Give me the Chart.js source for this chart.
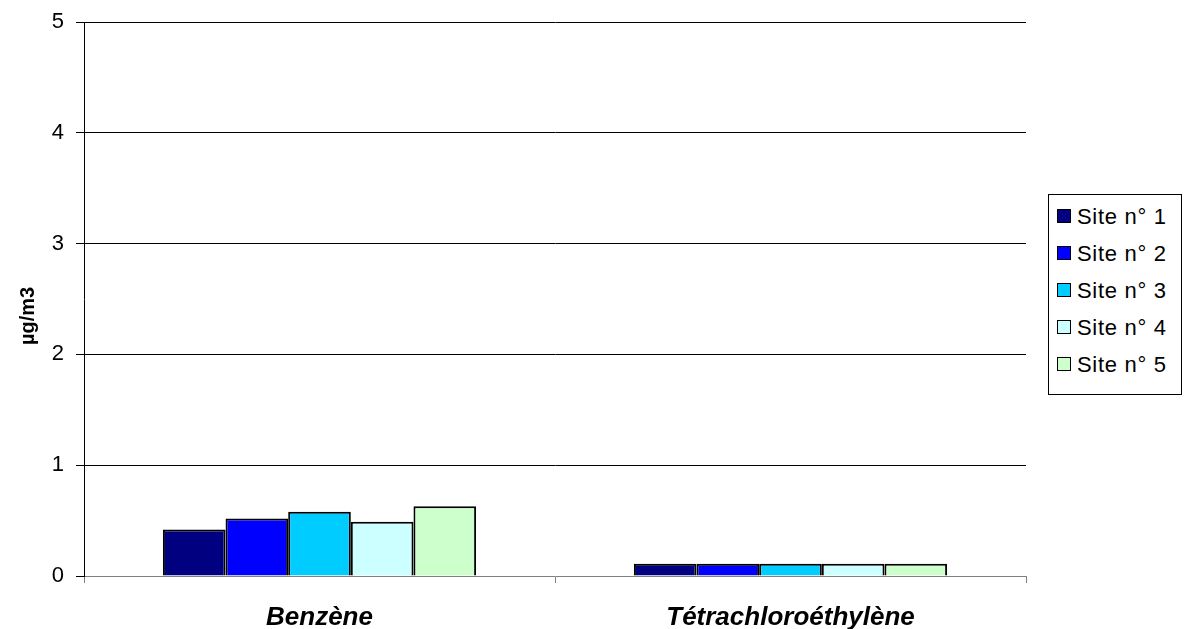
<!DOCTYPE html>
<html>
<head>
<meta charset="utf-8">
<script src="https://cdn.jsdelivr.net/npm/chart.js@4"></script>
<style>
  body { margin: 0; background: #fff; }
  #wrap { position: relative; width: 1186px; height: 629px; }
  #legend {
    position: absolute; left: 1048px; top: 194px; width: 132px; height: 199px;
    border: 1px solid #000; background: #fff;
    font-family: Arial, "Liberation Sans", sans-serif; font-size: 22px; color: #000;
    letter-spacing: 0.7px;
  }
  .item { position: absolute; left: 8px; height: 24px; line-height: 24px; white-space: nowrap; }
  .item span.box {
    display: inline-block; width: 12px; height: 12px; border: 1px solid #000;
    vertical-align: middle; margin-right: 6px; position: relative; top: -2px;
  }
</style>
</head>
<body>
<div id="wrap">
  <canvas id="chart" width="1186" height="629"></canvas>
  <div id="legend"></div>
</div>
<script>
const categories = ["Benzène", "Tétrachloroéthylène"];
const sites = ["Site n° 1", "Site n° 2", "Site n° 3", "Site n° 4", "Site n° 5"];
const site1 = [0.42, 0.11];
const site2 = [0.52, 0.11];
const site3 = [0.58, 0.11];
const site4 = [0.49, 0.11];
const site5 = [0.63, 0.11];
const colors = ["#000080", "#0000FF", "#00CCFF", "#CCFFFF", "#CCFFCC"];
const yTicks = [0, 1, 2, 3, 4, 5];
const yTitle = "µg/m3";

const values = [site1, site2, site3, site4, site5];

const datasets = sites.map((name, i) => ({
  label: name,
  data: values[i],
  backgroundColor: colors[i],
  borderColor: "#000",
  borderWidth: 2,
}));

// legend box on the right
const legend = document.getElementById("legend");
sites.forEach((name, i) => {
  const div = document.createElement("div");
  div.className = "item";
  div.style.top = (10 + i * 37) + "px";
  div.innerHTML = '<span class="box" style="background:' + colors[i] + '"></span>' + name;
  legend.appendChild(div);
});

Chart.defaults.font.family = "Arial, 'Liberation Sans', sans-serif";
Chart.defaults.color = "#000";

// y axis title, sitting a bit below the middle of the axis
const axisTitle = {
  id: "axisTitle",
  afterDraw(chart) {
    const ctx = chart.ctx;
    const area = chart.chartArea;
    ctx.save();
    ctx.translate(28, (area.top + area.bottom) / 2 + 17);
    ctx.rotate(-Math.PI / 2);
    ctx.font = "bold 20px Arial, 'Liberation Sans', sans-serif";
    ctx.fillStyle = "#000";
    ctx.textAlign = "center";
    ctx.textBaseline = "middle";
    ctx.fillText(yTitle, 0, 0);
    ctx.restore();
  },
};

new Chart(document.getElementById("chart"), {
  type: "bar",
  data: { labels: categories, datasets: datasets },
  plugins: [axisTitle],
  options: {
    responsive: false,
    animation: false,
    categoryPercentage: 0.665,
    barPercentage: 1,
    layout: { padding: { top: 22, right: 160, left: 0, bottom: 0 } },
    plugins: {
      legend: { display: false },
      tooltip: { enabled: false },
    },
    scales: {
      x: {
        grid: { drawOnChartArea: false, tickLength: 7, color: "#808080" },
        border: { color: "#808080" },
        ticks: {
          padding: 19,
          font: { size: 26, weight: "bold", style: "italic" },
        },
        afterFit: (scale) => { scale.height = 53; },
      },
      y: {
        min: 0,
        max: 5,
        afterBuildTicks: (scale) => { scale.ticks = yTicks.map((v) => ({ value: v })); },
        grid: {
          color: (c) => (c.tick && c.tick.value === 0 ? "rgba(0,0,0,0)" : "#000"),
          tickColor: "#000",
          tickLength: 8,
        },
        border: { color: "#000" },
        ticks: { padding: 12, font: { size: 22 } },
        afterFit: (scale) => {
          scale.width = 84;
          scale.paddingTop = 0;
          scale.paddingBottom = 0;
        },
      },
    },
  },
});
</script>
</body>
</html>
